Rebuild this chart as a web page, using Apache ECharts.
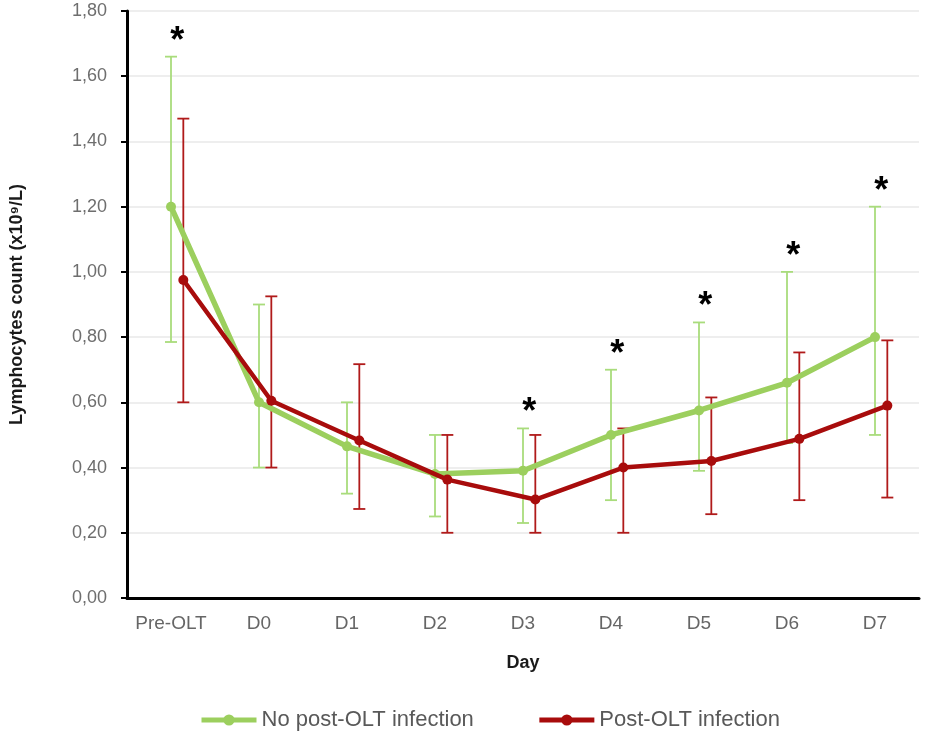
<!DOCTYPE html>
<html>
<head>
<meta charset="utf-8">
<script src="https://cdn.jsdelivr.net/npm/echarts@6/dist/echarts.min.js"></script>
<style>html,body{margin:0;padding:0;background:#fff;}#c{width:925px;height:738px;}</style>
</head>
<body>
<div id="c"></div>
<script>
const categories = ['Pre-OLT','D0','D1','D2','D3','D4','D5','D6','D7'];
const noInfMean = [1.20, 0.60, 0.465, 0.38, 0.39, 0.50, 0.575, 0.66, 0.80];
const noInfLow  = [0.785, 0.40, 0.32, 0.25, 0.23, 0.30, 0.39, 0.475, 0.50];
const noInfHigh = [1.66, 0.90, 0.60, 0.50, 0.52, 0.70, 0.845, 1.00, 1.20];
const infMean = [0.975, 0.605, 0.483, 0.363, 0.302, 0.40, 0.42, 0.488, 0.59];
const infLow  = [0.60, 0.40, 0.273, 0.20, 0.20, 0.20, 0.257, 0.30, 0.308];
const infHigh = [1.47, 0.925, 0.717, 0.50, 0.50, 0.52, 0.615, 0.753, 0.79];
const significant = [true, false, false, false, true, true, true, true, true];
const yMin = 0, yMax = 1.8, yStep = 0.2;

const GREEN = '#9ccf5e', GREEN_ERR = '#a9dc7c';
const RED = '#a80c0c', RED_ERR = '#b01a1a';
const RED_SHIFT = 0.14;   // horizontal dodge of the second series (in category units)
const FONT = "'Liberation Sans', Arial, sans-serif";

function errSeries(name, low, high, shift, color) {
  return {
    type: 'custom', name: name, xAxisIndex: 1, z: 2, silent: true,
    data: low.map((l, i) => [i + shift, l, high[i]]),
    renderItem: function (params, api) {
      const x = api.value(0);
      const lo = api.coord([x, api.value(1)]);
      const hi = api.coord([x, api.value(2)]);
      const w = 6;
      const st = { stroke: color, lineWidth: 1.8 };
      return { type: 'group', children: [
        { type: 'line', shape: { x1: lo[0], y1: lo[1], x2: hi[0], y2: hi[1] }, style: st },
        { type: 'line', shape: { x1: lo[0] - w, y1: lo[1], x2: lo[0] + w, y2: lo[1] }, style: st },
        { type: 'line', shape: { x1: hi[0] - w, y1: hi[1], x2: hi[0] + w, y2: hi[1] }, style: st }
      ]};
    }
  };
}

const chart = echarts.init(document.getElementById('c'));
chart.setOption({
  animation: false,
  backgroundColor: '#fff',
  textStyle: { fontFamily: FONT },
  grid: { left: 127, right: 6, top: 11, bottom: 140, containLabel: false },
  legend: {
    bottom: 2, left: 194, itemWidth: 55, itemHeight: 14, itemGap: 63,
    textStyle: { fontSize: 22, color: '#595959', fontFamily: FONT },
    lineStyle: { width: 5 },
    data: ['No post-OLT infection', 'Post-OLT infection']
  },
  xAxis: [
    {
      type: 'category', data: categories, boundaryGap: true,
      name: 'Day', nameLocation: 'middle', nameGap: 56,
      nameTextStyle: { fontSize: 18, fontWeight: 'bold', color: '#1a1a1a' },
      axisLine: { lineStyle: { color: '#000', width: 3 } },
      axisTick: { alignWithLabel: true, interval: 0, length: 5, lineStyle: { color: '#000', width: 2 } },
      axisLabel: { interval: 0, fontSize: 19, color: '#666666', margin: 16 },
      splitLine: { show: false }
    },
    { type: 'value', min: -0.5, max: 8.5, show: false }
  ],
  yAxis: {
    type: 'value', min: yMin, max: yMax, interval: yStep,
    name: 'Lymphocytes count (x10\u2079/L)', nameLocation: 'middle', nameGap: 101,
    nameTextStyle: { fontSize: 18, fontWeight: 'bold', color: '#1a1a1a' },
    axisLine: { show: true, onZero: false, lineStyle: { color: '#000', width: 3 } },
    axisTick: { show: true, inside: false, length: 6, lineStyle: { color: '#000', width: 2 } },
    axisLabel: { fontSize: 18, color: '#6e6e6e', margin: 20,
      formatter: v => v.toFixed(2).replace('.', ',') },
    splitLine: { lineStyle: { color: '#e8e8e8', width: 1.5 } }
  },
  series: [
    errSeries('errNo', noInfLow, noInfHigh, 0, GREEN_ERR),
    {
      name: 'No post-OLT infection', type: 'line', xAxisIndex: 1, z: 3,
      data: noInfMean.map((v, i) => [i, v]),
      symbol: 'circle', symbolSize: 10, color: GREEN,
      lineStyle: { color: GREEN, width: 5.5 }, itemStyle: { color: GREEN }
    },
    errSeries('errInf', infLow, infHigh, RED_SHIFT, RED_ERR),
    {
      name: 'Post-OLT infection', type: 'line', xAxisIndex: 1, z: 4,
      data: infMean.map((v, i) => [i + RED_SHIFT, v]),
      symbol: 'circle', symbolSize: 10, color: RED,
      lineStyle: { color: RED, width: 4.5 }, itemStyle: { color: RED }
    },
    {
      type: 'custom', name: 'stars', xAxisIndex: 1, z: 5, silent: true,
      data: noInfHigh.map((h, i) => significant[i] ? [i + 0.07, h] : null).filter(d => d),
      renderItem: function (params, api) {
        const p = api.coord([api.value(0), api.value(1)]);
        return { type: 'text', x: p[0], y: p[1] + 3,
          style: { text: '*', fill: '#000', font: 'bold 36px ' + FONT,
            textAlign: 'center', textVerticalAlign: 'bottom' } };
      }
    }
  ]
});
</script>
</body>
</html>
